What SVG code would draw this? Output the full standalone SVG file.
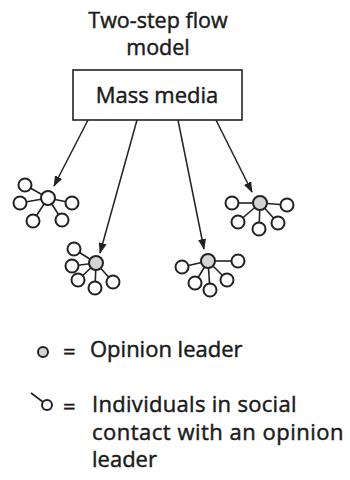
<svg xmlns="http://www.w3.org/2000/svg" width="350" height="480" viewBox="0 0 350 480">
<style>
text{font-family:"Open Sans","Liberation Sans",sans-serif;font-size:22px;fill:#1a1a1a;stroke:#1a1a1a;stroke-width:0.45}
.c{text-anchor:middle}
.t{font-size:21.5px}
.box{fill:#fff;stroke:#222;stroke-width:1.6}
.arr{stroke:#222;stroke-width:1.5;fill:none}
.tie{stroke:#222;stroke-width:1.6}
.sat{fill:#fff;stroke:#222;stroke-width:2}
.ldr{fill:#d4d4d4;stroke:#222;stroke-width:2}
</style>
<defs>
<marker id="ah" markerUnits="userSpaceOnUse" markerWidth="11" markerHeight="8" refX="10" refY="4" orient="auto">
<path d="M0,0 L11,4 L0,8 Z" fill="#222"/>
</marker>
</defs>
<rect width="350" height="480" fill="#fff"/>
<g id="title">
<text class="c t" x="158" y="28">Two-step flow</text>
<text class="c t" x="158" y="55">model</text>
</g>
<g id="mass-media">
<rect class="box" x="73" y="70" width="169" height="50"/>
<text class="c" x="157" y="103">Mass media</text>
</g>
<g id="connectors">
<line class="arr" x1="88" y1="120" x2="54" y2="186" marker-end="url(#ah)"/>
<line class="arr" x1="137" y1="120" x2="100" y2="253" marker-end="url(#ah)"/>
<line class="arr" x1="178" y1="120" x2="204" y2="249" marker-end="url(#ah)"/>
<line class="arr" x1="216" y1="120" x2="252" y2="192" marker-end="url(#ah)"/>
</g>
<g id="cluster1">
<g class="tie">
<line x1="48" y1="198" x2="25" y2="185"/><line x1="48" y1="198" x2="20" y2="203"/><line x1="48" y1="198" x2="72" y2="203"/><line x1="48" y1="198" x2="33" y2="221"/><line x1="48" y1="198" x2="62" y2="220"/>
</g>
<circle class="sat" cx="25" cy="185" r="6.5"/><circle class="sat" cx="20" cy="203" r="6.5"/><circle class="sat" cx="72" cy="203" r="6.5"/><circle class="sat" cx="33" cy="221" r="6.5"/><circle class="sat" cx="62" cy="220" r="6.5"/>
<circle class="sat" cx="48" cy="198" r="7"/>
</g>
<g id="cluster2">
<g class="tie">
<line x1="96" y1="263" x2="74" y2="249"/><line x1="96" y1="263" x2="72" y2="266"/><line x1="96" y1="263" x2="78" y2="280"/><line x1="96" y1="263" x2="95" y2="288"/><line x1="96" y1="263" x2="113" y2="282"/>
</g>
<circle class="sat" cx="74" cy="249" r="6.5"/><circle class="sat" cx="72" cy="266" r="6.5"/><circle class="sat" cx="78" cy="280" r="6.5"/><circle class="sat" cx="95" cy="288" r="6.5"/><circle class="sat" cx="113" cy="282" r="6.5"/>
<circle class="ldr" cx="96" cy="263" r="7"/>
</g>
<g id="cluster3">
<g class="tie">
<line x1="208" y1="261" x2="182" y2="267"/><line x1="208" y1="261" x2="238" y2="261"/><line x1="208" y1="261" x2="195" y2="283"/><line x1="208" y1="261" x2="210" y2="290"/><line x1="208" y1="261" x2="227" y2="280"/>
</g>
<circle class="sat" cx="182" cy="267" r="6.5"/><circle class="sat" cx="238" cy="261" r="6.5"/><circle class="sat" cx="195" cy="283" r="6.5"/><circle class="sat" cx="210" cy="290" r="6.5"/><circle class="sat" cx="227" cy="280" r="6.5"/>
<circle class="ldr" cx="208" cy="261" r="7"/>
</g>
<g id="cluster4">
<g class="tie">
<line x1="260" y1="203" x2="232" y2="203"/><line x1="260" y1="203" x2="287" y2="205"/><line x1="260" y1="203" x2="238" y2="222"/><line x1="260" y1="203" x2="259" y2="229"/><line x1="260" y1="203" x2="278" y2="223"/>
</g>
<circle class="sat" cx="232" cy="203" r="6.5"/><circle class="sat" cx="287" cy="205" r="6.5"/><circle class="sat" cx="238" cy="222" r="6.5"/><circle class="sat" cx="259" cy="229" r="6.5"/><circle class="sat" cx="278" cy="223" r="6.5"/>
<circle class="ldr" cx="260" cy="203" r="7"/>
</g>
<g id="legend-leader">
<circle class="ldr" cx="43" cy="352" r="5"/>
<text x="63" y="359">=</text>
<text x="90" y="357">Opinion leader</text>
</g>
<g id="legend-individuals">
<line class="tie" x1="31" y1="393" x2="43" y2="402"/>
<circle class="sat" cx="47" cy="405" r="5"/>
<text x="63" y="414">=</text>
<text x="92" y="412" letter-spacing="0.3">Individuals in social</text>
<text x="92" y="440" letter-spacing="0.5">contact with an opinion</text>
<text x="92" y="467">leader</text>
</g>
</svg>
